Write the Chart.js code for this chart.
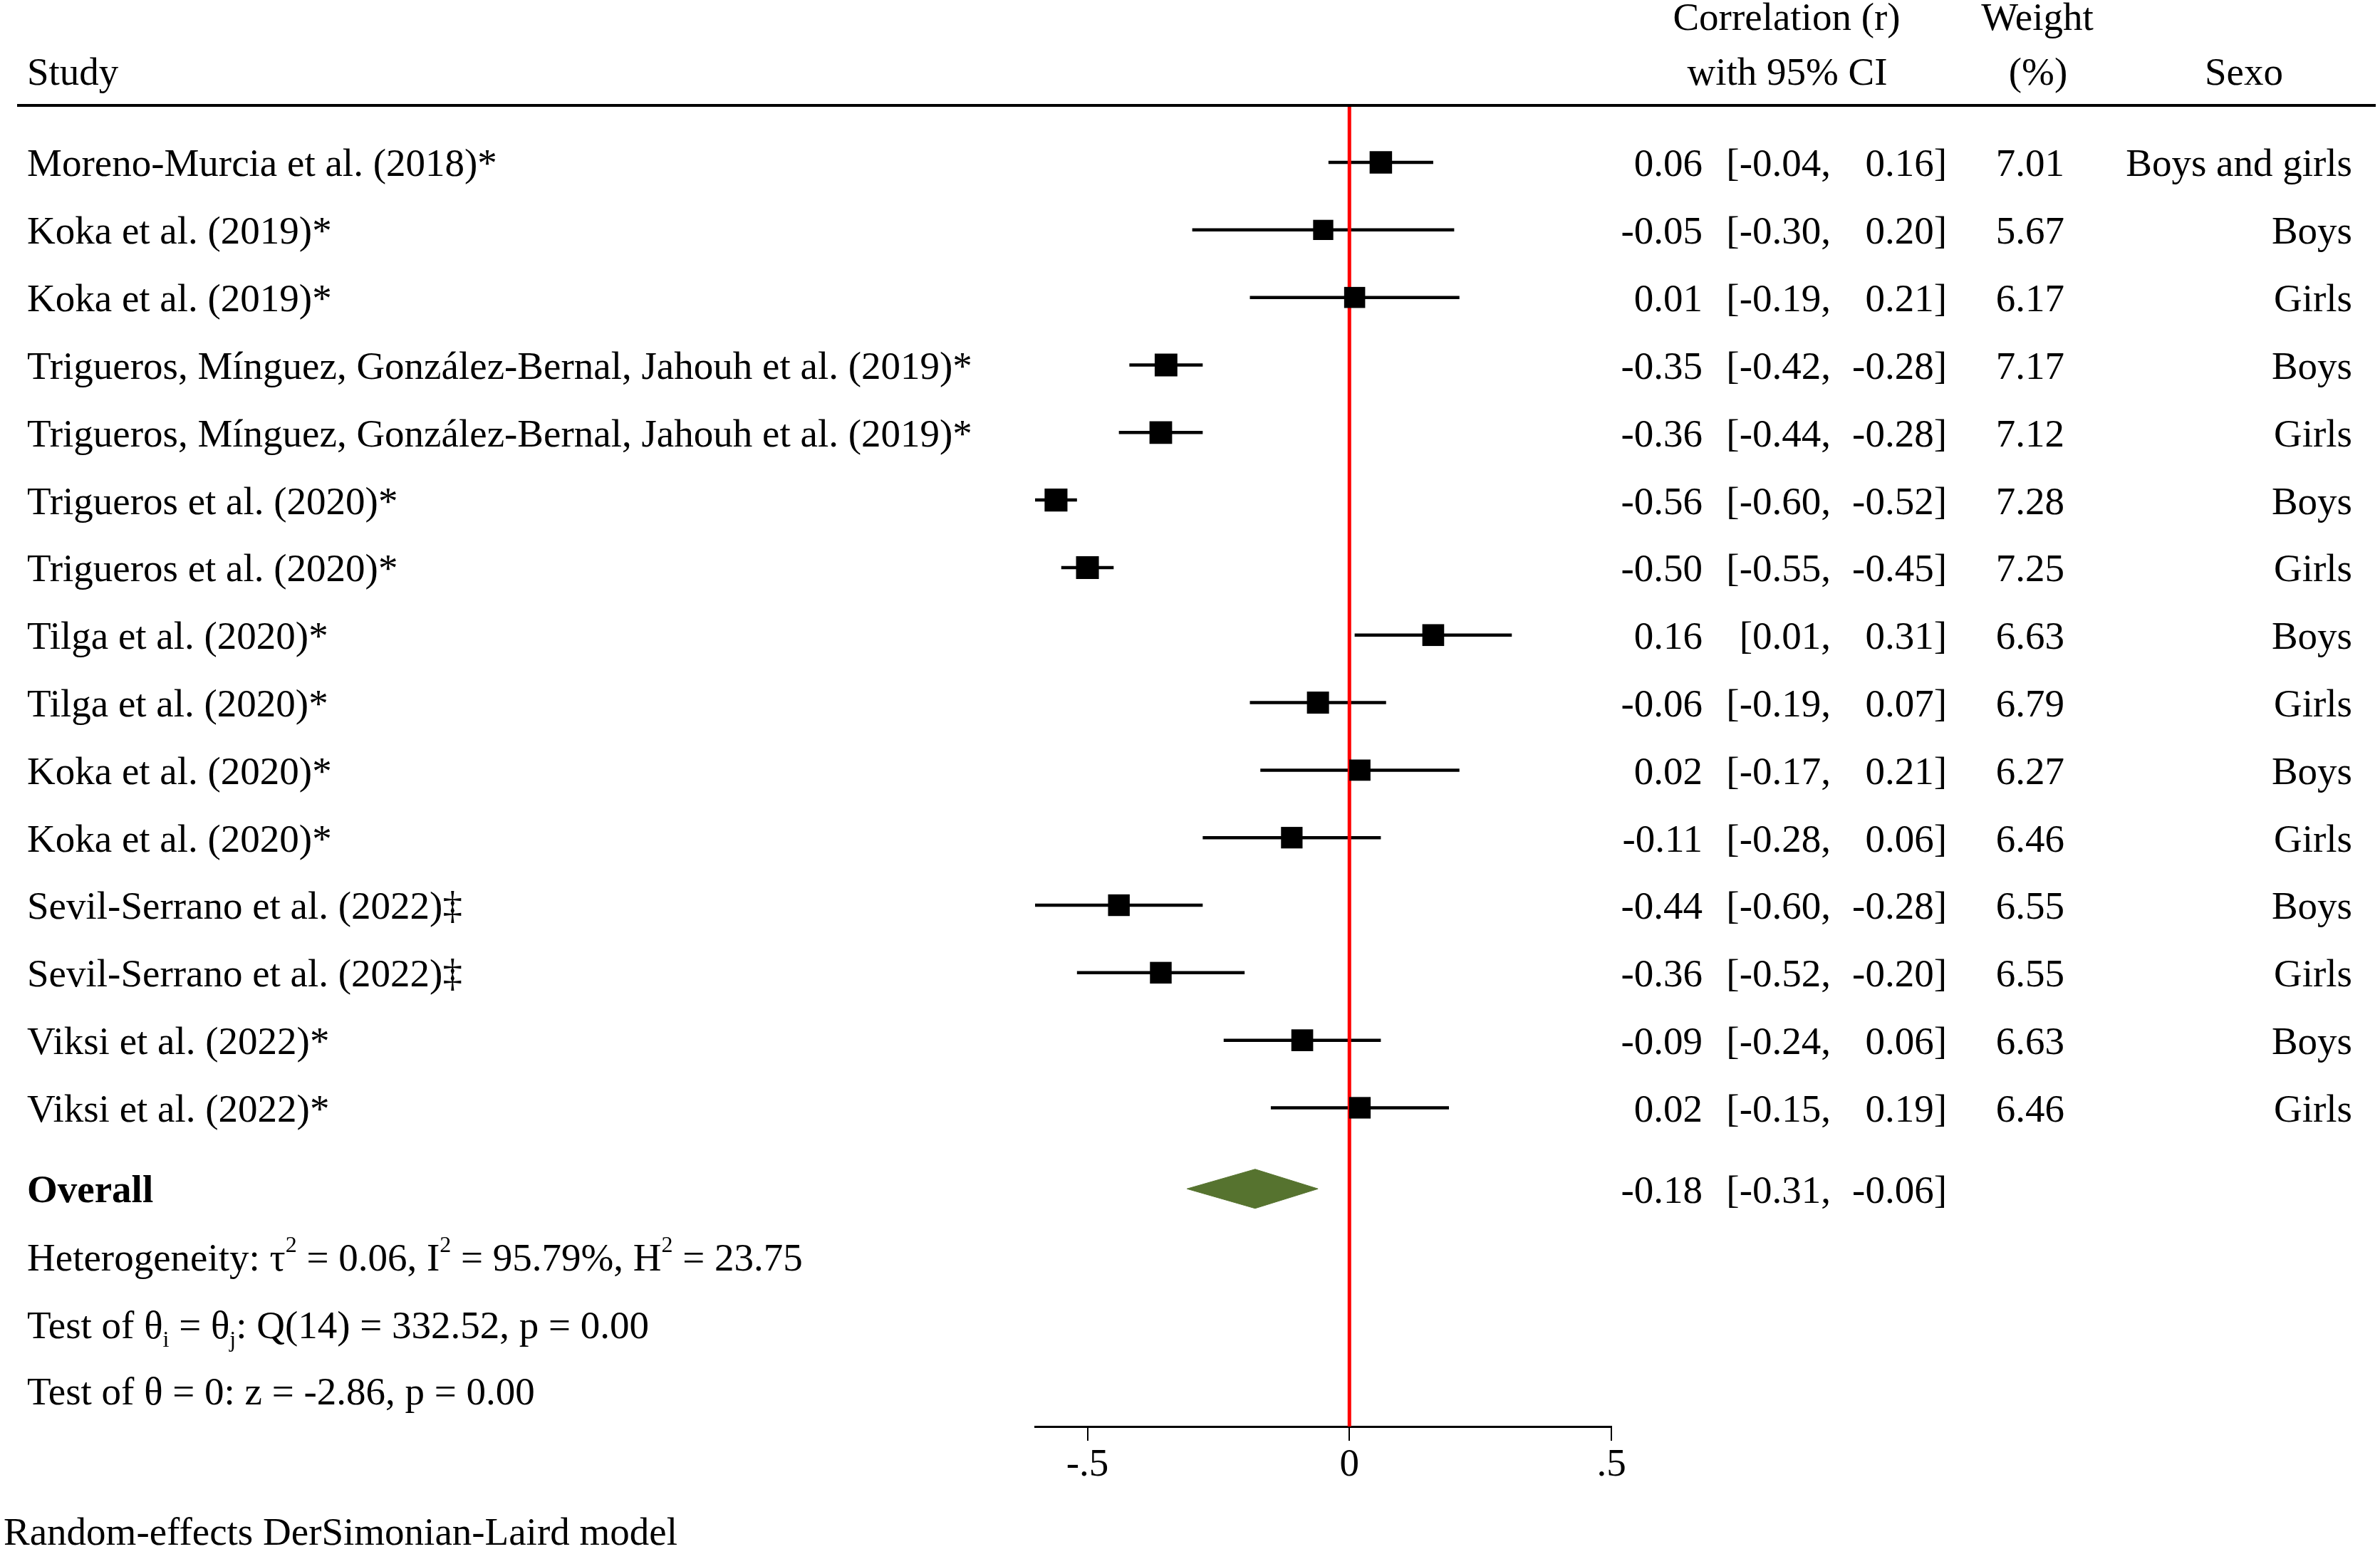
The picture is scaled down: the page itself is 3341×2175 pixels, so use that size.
<!DOCTYPE html>
<html lang="en">
<head>
<meta charset="UTF-8">
<title>Forest plot</title>
<script src="https://cdn.jsdelivr.net/npm/chart.js"></script>
<style>
  * { margin: 0; padding: 0; box-sizing: border-box; }
  body { background: #fff; width: 3341px; height: 2175px; overflow: hidden; }
  .wrap { position: relative; width: 3341px; height: 2175px; }
</style>
</head>
<body>
<div class="wrap"><canvas id="forest"></canvas></div>
<script>
// study rows
const studies = [
  'Moreno-Murcia et al. (2018)*',
  'Koka et al. (2019)*',
  'Koka et al. (2019)*',
  'Trigueros, Mínguez, González-Bernal, Jahouh et al. (2019)*',
  'Trigueros, Mínguez, González-Bernal, Jahouh et al. (2019)*',
  'Trigueros et al. (2020)*',
  'Trigueros et al. (2020)*',
  'Tilga et al. (2020)*',
  'Tilga et al. (2020)*',
  'Koka et al. (2020)*',
  'Koka et al. (2020)*',
  'Sevil-Serrano et al. (2022)‡',
  'Sevil-Serrano et al. (2022)‡',
  'Viksi et al. (2022)*',
  'Viksi et al. (2022)*'
];
const sexo = ['Boys and girls', 'Boys', 'Girls', 'Boys', 'Girls', 'Boys', 'Girls', 'Boys', 'Girls',
  'Boys', 'Girls', 'Boys', 'Girls', 'Boys', 'Girls'];
const estimates = [0.06, -0.05, 0.01, -0.35, -0.36, -0.56, -0.50, 0.16, -0.06, 0.02, -0.11, -0.44, -0.36, -0.09, 0.02];
const lower = [-0.04, -0.30, -0.19, -0.42, -0.44, -0.60, -0.55, 0.01, -0.19, -0.17, -0.28, -0.60, -0.52, -0.24, -0.15];
const upper = [0.16, 0.20, 0.21, -0.28, -0.28, -0.52, -0.45, 0.31, 0.07, 0.21, 0.06, -0.28, -0.20, 0.06, 0.19];
const weights = [7.01, 5.67, 6.17, 7.17, 7.12, 7.28, 7.25, 6.63, 6.79, 6.27, 6.46, 6.55, 6.55, 6.63, 6.46];

const overallEst = -0.18;
const overallLo = -0.31;
const overallHi = -0.06;

const xTicks = [-0.5, 0, 0.5];
const xTickLabels = ['-.5', '0', '.5'];

const hetLine = [['Heterogeneity: τ', ''], ['2', 'sup'], [' = 0.06, I', ''], ['2', 'sup'], [' = 95.79%, H', ''], ['2', 'sup'], [' = 23.75', '']];
const qLine = [['Test of θ', ''], ['i', 'sub'], [' = θ', ''], ['j', 'sub'], [': Q(14) = 332.52, p = 0.00', '']];
const zLine = [['Test of θ = 0: z = -2.86, p = 0.00', '']];

// layout (row units on the y scale)
const FONT = '"Liberation Serif", "Times New Roman", serif';
const SIZE = 55;
const TXT_DY = 5;
const OVERALL_ROW = 16.2;
const STAT_ROWS = [17.22, 18.22, 19.2];
const Y_MIN = 0.156, Y_MAX = 19.72;
const DIAMOND_H = 0.29;

const rows = studies.map((_, i) => i + 1);
const fmt = v => v.toFixed(2);

const ciSets = rows.map((r, i) => ({
  type: 'scatter',
  data: [{ x: lower[i], y: r }, { x: upper[i], y: r }],
  showLine: true,
  borderColor: '#000',
  borderWidth: 4.5,
  pointRadius: 0,
  order: 3
}));

const datasets = [
  {
    type: 'scatter',
    data: rows.map((r, i) => ({ x: estimates[i], y: r })),
    pointStyle: 'rect',
    pointRadius: weights.map(w => 31.5 * Math.sqrt(w / 7.01) / Math.SQRT2),
    backgroundColor: '#000',
    borderWidth: 0,
    order: 0
  },
  {
    type: 'scatter',
    data: [{ x: 0, y: Y_MIN }, { x: 0, y: Y_MAX }],
    showLine: true,
    borderColor: '#ff0000',
    borderWidth: 5,
    pointRadius: 0,
    order: 1
  },
  {
    type: 'scatter',
    data: [
      { x: overallLo, y: OVERALL_ROW },
      { x: overallEst, y: OVERALL_ROW - DIAMOND_H },
      { x: overallHi, y: OVERALL_ROW },
      { x: overallEst, y: OVERALL_ROW + DIAMOND_H },
      { x: overallLo, y: OVERALL_ROW }
    ],
    showLine: true,
    fill: 'shape',
    borderColor: '#56732f',
    borderWidth: 1,
    backgroundColor: '#56732f',
    pointRadius: 0,
    order: 2
  },
  ...ciSets
];

function drawRich(ctx, parts, x, yMid) {
  const base = yMid + 18;
  ctx.textAlign = 'left';
  ctx.textBaseline = 'alphabetic';
  parts.forEach(([t, k]) => {
    ctx.font = k ? `32px ${FONT}` : `${SIZE}px ${FONT}`;
    const dy = k === 'sup' ? -26 : k === 'sub' ? 12 : 0;
    ctx.fillText(t, x, base + dy);
    x += ctx.measureText(t).width;
  });
}

const forestText = {
  id: 'forestText',
  afterDatasetsDraw(chart) {
    const ctx = chart.ctx;
    const ys = chart.scales.y;
    const put = (t, x, y) => ctx.fillText(t, x, y + TXT_DY);
    ctx.save();
    ctx.fillStyle = '#000';

    // header rule
    ctx.fillRect(24, 146, 3311, 4);

    ctx.font = `${SIZE}px ${FONT}`;
    ctx.textBaseline = 'middle';
    ctx.textAlign = 'left';
    ctx.fillText('Study', 38, 105);
    ctx.textAlign = 'center';
    ctx.fillText('Correlation (r)', 2508, 28);
    ctx.fillText('with 95% CI', 2509, 105);
    ctx.fillText('Weight', 2860, 28);
    ctx.fillText('(%)', 2861, 105);
    ctx.fillText('Sexo', 3150, 105);

    const rowText = (y, est, lo, hi) => {
      ctx.textAlign = 'right';
      put(fmt(est), 2390, y);
      put('[' + fmt(lo) + ',', 2570, y);
      put(fmt(hi) + ']', 2733, y);
    };

    rows.forEach((r, i) => {
      const y = ys.getPixelForValue(r);
      ctx.textAlign = 'left';
      put(studies[i], 38, y);
      rowText(y, estimates[i], lower[i], upper[i]);
      ctx.textAlign = 'right';
      put(weights[i].toFixed(2), 2898, y);
      put(sexo[i], 3302, y);
    });

    const yo = ys.getPixelForValue(OVERALL_ROW);
    rowText(yo, overallEst, overallLo, overallHi);
    ctx.textAlign = 'left';
    ctx.font = `bold ${SIZE}px ${FONT}`;
    put('Overall', 38, yo);

    [hetLine, qLine, zLine].forEach((line, k) => {
      drawRich(ctx, line, 38, ys.getPixelForValue(STAT_ROWS[k]));
    });

    ctx.font = `${SIZE}px ${FONT}`;
    ctx.textAlign = 'left';
    ctx.textBaseline = 'middle';
    put('Random-effects DerSimonian-Laird model', 5, 2150);
    ctx.restore();
  }
};

new Chart(document.getElementById('forest'), {
  type: 'scatter',
  data: { datasets },
  options: {
    responsive: true,
    maintainAspectRatio: false,
    animation: false,
    layout: { padding: { left: 1453, right: 1079, top: 148, bottom: 0 } },
    plugins: { legend: { display: false }, tooltip: { enabled: false } },
    scales: {
      x: {
        type: 'linear',
        min: -0.6,
        max: 0.5,
        afterBuildTicks: s => { s.ticks = xTicks.map(v => ({ value: v })); },
        afterFit: s => { s.height = 172; },
        ticks: {
          callback: (v, i) => xTickLabels[i],
          font: { family: FONT, size: SIZE },
          color: '#000',
          padding: 2,
          maxRotation: 0,
          autoSkip: false
        },
        grid: { drawOnChartArea: false, drawTicks: true, tickLength: 20, color: '#000', lineWidth: 2 },
        border: { display: true, color: '#000', width: 3 }
      },
      y: {
        type: 'linear',
        reverse: true,
        min: Y_MIN,
        max: Y_MAX,
        display: false
      }
    }
  },
  plugins: [forestText]
});
</script>
</body>
</html>
